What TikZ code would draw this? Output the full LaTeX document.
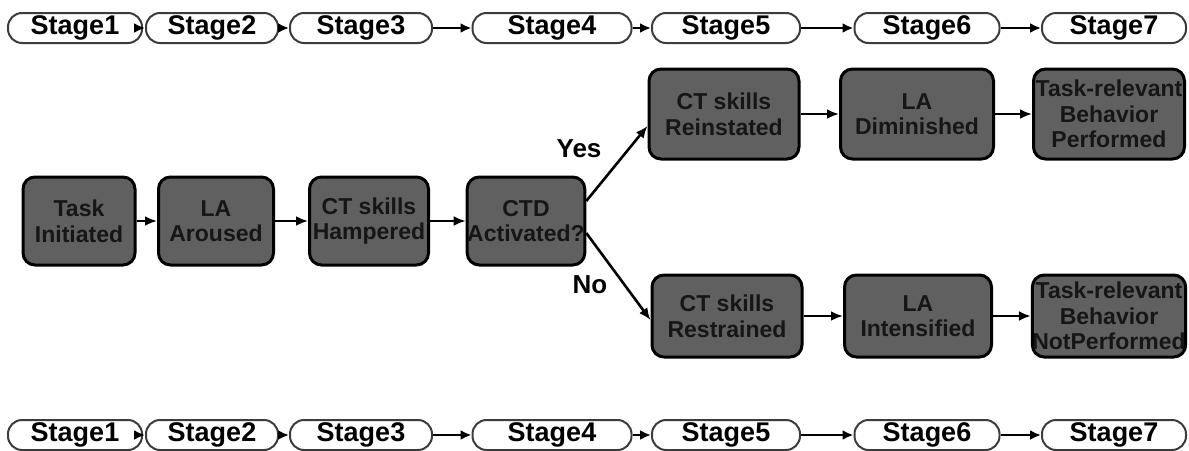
\documentclass[tikz,border=0pt]{standalone}
\usepackage{fontspec}
\setmainfont{Liberation Sans}
\usetikzlibrary{positioning,arrows.meta}
\definecolor{laInk}{RGB}{22,22,22}
\definecolor{laFill}{RGB}{96,96,96}
\definecolor{laEdge}{RGB}{60,60,60}
\tikzset{
    base/.style={align=center},
    stagebox/.style={base, rectangle, rounded corners=7pt, draw=laEdge, line width=1pt,
                     fill=white, text=black, inner sep=1pt, minimum height=15pt,
                     font=\fontsize{13.5}{15}\selectfont\bfseries},
    phase/.style={base, rectangle, rounded corners=6pt, draw=black, line width=1.5pt,
                  fill=laFill, text=laInk, inner sep=0pt,
                  font=\fontsize{11.5}{12.8}\selectfont\bfseries},
    flow/.style={-{Latex[length=6pt,width=5pt]}, line width=1.3pt, color=black},
    stepflow/.style={-{Latex[length=5.5pt,width=5pt]}, line width=1.1pt, color=black},
    answer/.style={font=\fontsize{13}{15}\selectfont\bfseries, text=black}
}

\begin{document}
\begin{tikzpicture}[x=0.5pt, y=-0.5pt]
  \useasboundingbox (0,0) rectangle (1189,450);

  % Stage rows (top and bottom)
  \foreach \row/\y in {t/28, b/435} {
    \foreach \n/\x/\w in {1/75/67, 2/212/66, 3/361/71, 4/552/79.5, 5/726/74, 6/927/72.5, 7/1114/72} {
      \node[stagebox, minimum width=\w pt] (\row\n) at (\x,\y) {Stage\n};
    }
    \foreach \p/\q in {1/2, 2/3, 3/4, 4/5, 5/6, 6/7} {
      \draw[stepflow] (\row\p) -- (\row\q);
    }
  }

  % Main path
  \node[phase, minimum width=56pt, minimum height=44pt] (task) at (79,221) {Task\\Initiated};
  \node[phase, minimum width=57.5pt, minimum height=44pt] (aroused) at (216,221) {LA\\Aroused};
  \node[phase, minimum width=59.5pt, minimum height=44pt] (hampered) at (369,221) {CT skills\\Hampered};
  \node[phase, minimum width=57.5pt, minimum height=44pt] (ctd) at (526,221) {CTD\\Activated?};
  \draw[flow] (task) -- (aroused);
  \draw[flow] (aroused) -- (hampered);
  \draw[flow] (hampered) -- (ctd);

  % Yes branch
  \node[phase, minimum width=75pt, minimum height=45pt] (reinstated) at (724,114) {CT skills\\Reinstated};
  \node[phase, minimum width=76.5pt, minimum height=45pt] (diminished) at (917,114) {LA\\Diminished};
  \node[phase, minimum width=75.5pt, minimum height=45pt] (performed) at (1109,114) {Task-relevant\\Behavior\\Performed};
  \draw[flow] ([yshift=10pt]ctd.east) -- ([yshift=-6pt]reinstated.west);
  \draw[flow] (reinstated) -- (diminished);
  \draw[flow] (diminished) -- (performed);
  \node[answer] (yes) at (579,149) {Yes};

  % No branch
  \node[phase, minimum width=75pt, minimum height=41pt] (restrained) at (727,316) {CT skills\\Restrained};
  \node[phase, minimum width=73.5pt, minimum height=41pt] (intensified) at (918,316) {LA\\Intensified};
  \node[phase, minimum width=75.5pt, minimum height=41pt] (notperformed) at (1109,316) {Task-relevant\\Behavior\\NotPerformed};
  \draw[flow] ([yshift=-6pt]ctd.east) -- ([yshift=-2pt]restrained.west);
  \draw[flow] (restrained) -- (intensified);
  \draw[flow] (intensified) -- (notperformed);
  \node[answer] (no) at (590,285) {No};
\end{tikzpicture}
\end{document}
